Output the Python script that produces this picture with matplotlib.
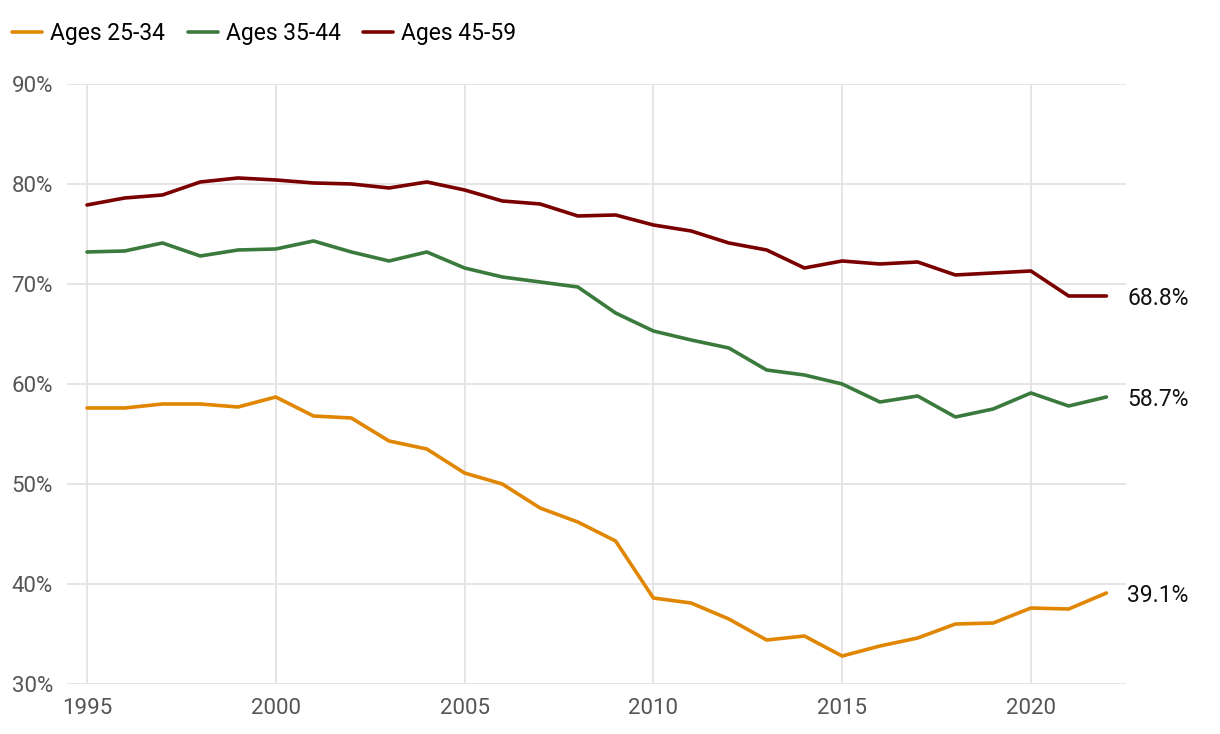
import matplotlib.pyplot as plt
from matplotlib.ticker import FuncFormatter

plt.rcParams['font.family'] = ['Roboto', 'DejaVu Sans']

years = list(range(1995, 2023))

ages_25_34 = [57.6, 57.6, 58.0, 58.0, 57.7, 58.7, 56.8, 56.6, 54.3, 53.5,
              51.1, 50.0, 47.6, 46.2, 44.3, 38.6, 38.1, 36.5, 34.4, 34.8,
              32.8, 33.8, 34.6, 36.0, 36.1, 37.6, 37.5, 39.1]
ages_35_44 = [73.2, 73.3, 74.1, 72.8, 73.4, 73.5, 74.3, 73.2, 72.3, 73.2,
              71.6, 70.7, 70.2, 69.7, 67.1, 65.3, 64.4, 63.6, 61.4, 60.9,
              60.0, 58.2, 58.8, 56.7, 57.5, 59.1, 57.8, 58.7]
ages_45_59 = [77.9, 78.6, 78.9, 80.2, 80.6, 80.4, 80.1, 80.0, 79.6, 80.2,
              79.4, 78.3, 78.0, 76.8, 76.9, 75.9, 75.3, 74.1, 73.4, 71.6,
              72.3, 72.0, 72.2, 70.9, 71.1, 71.3, 68.8, 68.8]

series = [("Ages 25-34", ages_25_34, "#E08600"),
          ("Ages 35-44", ages_35_44, "#3A7A3C"),
          ("Ages 45-59", ages_45_59, "#7A0000")]

fig = plt.figure(figsize=(12.2, 7.34), dpi=100)
ax = fig.add_axes([0.0549, 0.0681, 0.8681, 0.8175])

for name, vals, col in series:
    ax.plot(years, vals, color=col, lw=2.6, label=name, solid_capstyle='round')
    ax.annotate(f"{vals[-1]:.1f}%", (years[-1], vals[-1]), xytext=(15, -2),
                textcoords='offset points', va='center', ha='left',
                fontsize=16.5, color='#111111')

ax.set_xlim(1994.47, 2022.52)
ax.set_ylim(30, 90)
ax.set_xticks([1995, 2000, 2005, 2010, 2015, 2020])
ax.set_yticks(range(30, 91, 10))
ax.yaxis.set_major_formatter(FuncFormatter(lambda v, p: f"{v:.0f}%"))
ax.grid(True, color='#e3e3e3', lw=1.3)
ax.set_axisbelow(True)
for s in ax.spines.values():
    s.set_visible(False)
ax.tick_params(length=0, labelsize=16, labelcolor='#555555')
ax.tick_params(axis='x', pad=10)
ax.tick_params(axis='y', pad=10)

fig.legend(loc='upper left', bbox_to_anchor=(-4 / 1220, 1 - 6 / 734), ncol=3,
           frameon=False, fontsize=16.5, handlelength=1.3, handletextpad=0.35,
           columnspacing=1.0, borderaxespad=0.3)

fig.savefig('out.png', dpi=100)
